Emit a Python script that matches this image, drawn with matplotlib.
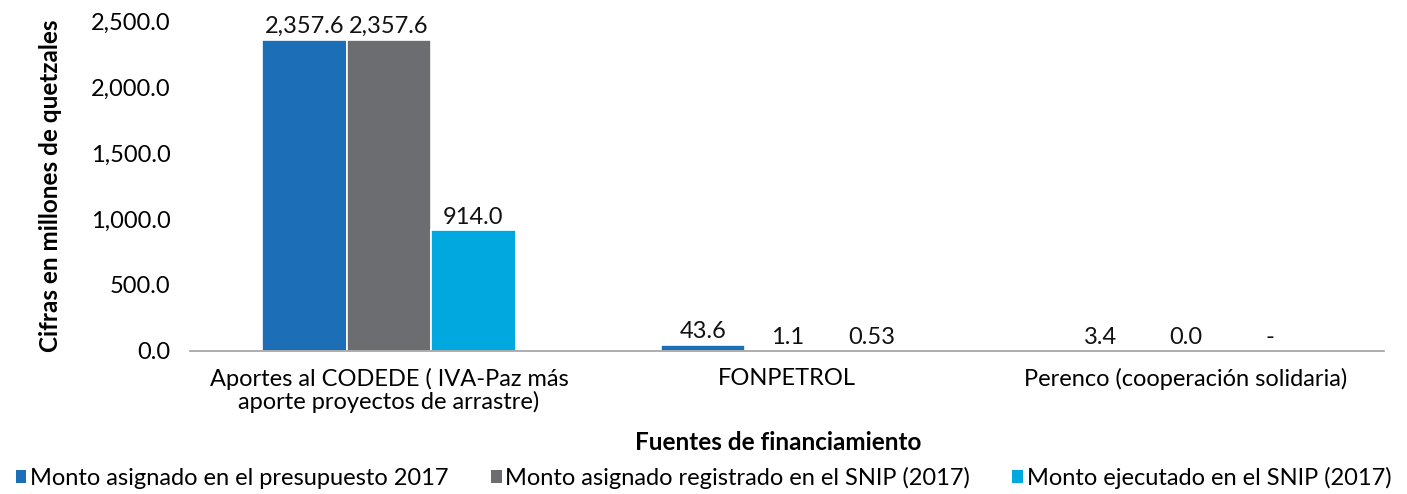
import matplotlib
matplotlib.use("Agg")
import matplotlib.pyplot as plt
from matplotlib.patches import Patch
from matplotlib.ticker import FuncFormatter
import numpy as np

plt.rcParams['font.family'] = ['Lato', 'DejaVu Sans']

categories = ["Aportes al CODEDE ( IVA-Paz más\naporte proyectos de arrastre)",
              "FONPETROL",
              "Perenco (cooperación solidaria)"]
series_names = ["Monto asignado en el presupuesto 2017",
                "Monto asignado registrado en el SNIP (2017)",
                "Monto ejecutado en el SNIP (2017)"]
presupuesto = [2357.6, 43.6, 3.4]
snip_asignado = [2357.6, 1.1, 0.0]
snip_ejecutado = [914.0, 0.53, None]
colors = ["#1c6fb7", "#6c6d70", "#00a8e0"]

def fmt_label(v):
    if v is None:
        return "-"
    if 0 < v < 1:
        return "%.2f" % v
    return "{:,.1f}".format(v)

fig = plt.figure(figsize=(14.07, 4.94), dpi=100)
ax = fig.add_axes([0.135, 0.2895, 0.849, 0.668])

x = np.arange(len(categories))
width = 0.212
series = [presupuesto, snip_asignado, snip_ejecutado]
for i, (vals, c) in enumerate(zip(series, colors)):
    pos = x + (i - 1) * width
    h = [0 if v is None else v for v in vals]
    ax.bar(pos, h, width=width, color=c, edgecolor="white", linewidth=1.2)
    for p, v, hh in zip(pos, vals, h):
        ax.annotate(fmt_label(v), (p, hh), xytext=(0, 2), textcoords="offset points",
                    ha="center", va="bottom", fontsize=17, color="#111111")

ax.set_xlim(-0.5, 2.5)
ax.set_ylim(0, 2500)
ax.set_yticks(np.arange(0, 2501, 500))
ax.yaxis.set_major_formatter(FuncFormatter(lambda v, p: "{:,.1f}".format(v)))
ax.set_xticks(x)
ax.set_xticklabels(categories, fontsize=17, linespacing=1.05)
ax.tick_params(axis="y", labelsize=17, length=0, pad=14)
ax.tick_params(axis="x", length=0, pad=12)
for s in ["top", "right", "left"]:
    ax.spines[s].set_visible(False)
ax.spines["bottom"].set_color("#a0a0a0")
ax.spines["bottom"].set_linewidth(1.2)

ax.set_ylabel("Cifras en millones de quetzales", fontsize=17.5, fontweight="bold")
ax.yaxis.set_label_coords(-0.107, 0.5)
fig.text(0.553, 0.105, "Fuentes de financiamiento", fontsize=17.5, fontweight="bold",
         ha="center", va="center")

handles = [Patch(facecolor=c, edgecolor="none") for c in colors]
fig.legend(handles, series_names, loc="center", bbox_to_anchor=(0.5, 0.032), ncol=3,
           frameon=False, fontsize=17, handlelength=0.45, handleheight=0.45,
           handletextpad=0.15, columnspacing=1.8)

fig.savefig("out.png", dpi=100)
